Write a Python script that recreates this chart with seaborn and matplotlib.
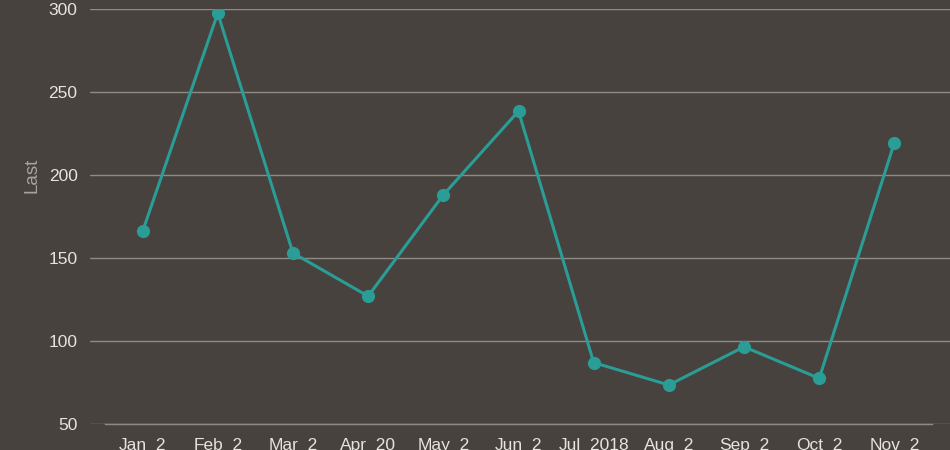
import pandas as pd
import seaborn as sns
import matplotlib.pyplot as plt
from matplotlib.ticker import FixedLocator

# data
MONTHS = ["Jan_2", "Feb_2", "Mar_2", "Apr_20", "May_2", "Jun_2",
          "Jul_2018", "Aug_2", "Sep_2", "Oct_2", "Nov_2"]
LAST = [166, 297.5, 153, 127, 188, 238.5, 87, 73.5, 96.5, 77.5, 219.5]
Y_TICKS = [50, 100, 150, 200, 250, 300]

BG = "#47423e"
LINE = "#2a9d96"
TEXT = "#e6e3e0"
GRID = "#8e8a86"


def main():
    df = pd.DataFrame({"month": MONTHS, "Last": LAST})
    df["pos"] = range(len(df))

    sns.set_style("dark")
    plt.rcParams["font.family"] = ["Liberation Sans", "DejaVu Sans"]

    fig = plt.figure(figsize=(9.5, 4.5), dpi=100, facecolor=BG)
    ax = fig.add_axes([90 / 950, 1 - 424 / 450, 860 / 950, (424 - 9) / 450])
    ax.set_facecolor(BG)

    sns.lineplot(data=df, x="pos", y="Last", ax=ax, color=LINE, linewidth=2.2,
                 marker="o", markersize=9.5, markeredgewidth=0, zorder=3)

    n = len(MONTHS)
    ax.set_xlim(-0.5 - 15 / 75.2, n - 0.5 + 18 / 75.2)
    ax.set_ylim(50, 300)

    ax.set_xticks(range(n))
    ax.set_xticklabels(MONTHS)
    ax.xaxis.set_minor_locator(FixedLocator([i - 0.5 for i in range(n + 1)]))
    ax.tick_params(axis="x", which="major", length=0, pad=10, labelsize=12.5, colors=TEXT)
    ax.tick_params(axis="x", which="minor", length=9, width=1, color=GRID, direction="out")
    ax.set_yticks(Y_TICKS)
    ax.tick_params(axis="y", length=0, pad=9, labelsize=12.5, colors=TEXT)

    ax.grid(axis="y", color=GRID, linewidth=1)
    ax.grid(axis="x", visible=False)
    for side in ["top", "right", "left"]:
        ax.spines[side].set_visible(False)
    ax.spines["bottom"].set_visible(True)
    ax.spines["bottom"].set_color(GRID)
    ax.spines["bottom"].set_linewidth(1)
    ax.spines["bottom"].set_bounds(-0.5, n - 0.5)
    ax.spines["bottom"].set_zorder(2)

    ax.set_xlabel("")
    ax.set_ylabel("Last", color="#a8a39e", fontsize=13.5)
    ax.yaxis.set_label_coords(-0.058, 0.6)

    fig.savefig("out.png", dpi=100, facecolor=BG)
    plt.close(fig)


if __name__ == "__main__":
    main()
